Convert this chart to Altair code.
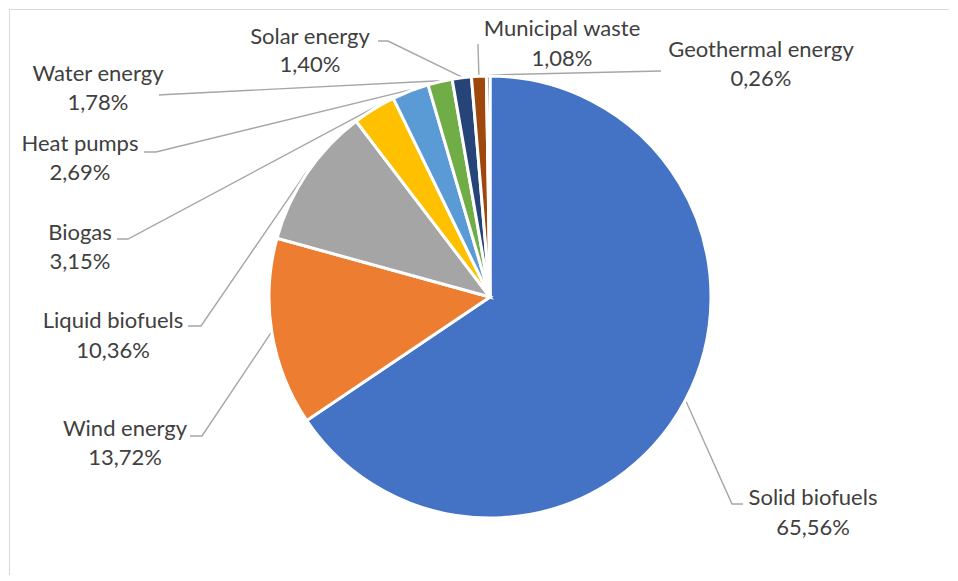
import math
import altair as alt
import pandas as pd

# ---- data ----
sources = ["Solid biofuels", "Wind energy", "Liquid biofuels", "Biogas", "Heat pumps",
           "Water energy", "Solar energy", "Municipal waste", "Geothermal energy"]
shares = [65.56, 13.72, 10.36, 3.15, 2.69, 1.78, 1.40, 1.08, 0.26]
pct_labels = ["65,56%", "13,72%", "10,36%", "3,15%", "2,69%", "1,78%", "1,40%", "1,08%", "0,26%"]
colors = ["#4472C4", "#ED7D31", "#A5A5A5", "#FFC000", "#5B9BD5", "#70AD47", "#264478", "#9E480E", "#636363"]

# ---- layout (page pixel coordinates) ----
OFF = 8
W, H = 940, 566
CX, CY, R = 489, 296, 221
# label centre (x, y of name line, y of percent line)
label_pos = [(812, 497, 527), (124, 428, 457), (112, 320, 350), (79, 232, 261), (79, 143, 172),
             (97, 73, 102), (309, 36, 64), (561, 28, 58), (760, 49, 78)]
# leader line: elbow point and end point near the label
leader_pts = [((731, 503), (742, 503)), ((201, 435), (189, 435)), ((200, 325), (187, 325)),
              ((127, 238), (116, 238)), ((155, 151), (143, 151)), ((166, 93.5), (158, 94)),
              ((387, 40), (377, 40)), ((477, 43), (477, 43)), ((660, 70), (660, 70))]

pie_df = pd.DataFrame({"source": sources, "share": shares, "order": list(range(len(sources)))})

# labels
lab_rows = []
for i, s in enumerate(sources):
    x, y1, y2 = label_pos[i]
    lab_rows.append({"x": x - OFF, "y": y1 - OFF, "t": s})
    lab_rows.append({"x": x - OFF, "y": y2 - OFF, "t": pct_labels[i]})
lab_df = pd.DataFrame(lab_rows)

# leader lines: start at slice edge (mid angle), then to elbow and end
total = sum(shares)
cum = 0.0
line_rows = []
for i, s in enumerate(sources):
    mid = (cum + shares[i] / 2) / total
    cum += shares[i]
    a = mid * 2 * math.pi
    ex = CX + (R + 1) * math.sin(a)
    ey = CY - (R + 1) * math.cos(a)
    (bx, by), (tx, ty) = leader_pts[i]
    for k, (px, py) in enumerate([(ex, ey), (bx, by), (tx, ty)]):
        line_rows.append({"src": s, "k": k, "x": px - OFF, "y": py - OFF})
line_df = pd.DataFrame(line_rows)

pie = alt.Chart(pie_df).mark_arc(radius=R, stroke="white", strokeWidth=3).encode(
    theta=alt.Theta("share:Q", stack=True),
    order=alt.Order("order:Q"),
    color=alt.Color("source:N", scale=alt.Scale(domain=sources, range=colors), legend=None),
    x=alt.value(CX - OFF),
    y=alt.value(CY - OFF),
)

leaders = alt.Chart(line_df).mark_line(color="#A6A6A6", strokeWidth=1.4).encode(
    x=alt.X("x:Q", scale=None, axis=None),
    y=alt.Y("y:Q", scale=None, axis=None),
    detail="src:N",
    order="k:Q",
)

labels = alt.Chart(lab_df).mark_text(
    font="Lato", fontSize=22, color="#404040", align="center", baseline="middle"
).encode(
    x=alt.X("x:Q", scale=None, axis=None),
    y=alt.Y("y:Q", scale=None, axis=None),
    text="t:N",
)

border_left = alt.Chart(pie_df).mark_rule(color="#D9D9D9", strokeWidth=1).encode(
    x=alt.value(0.5), y=alt.value(0), y2=alt.value(H)
)
border_top = alt.Chart(pie_df).mark_rule(color="#D9D9D9", strokeWidth=1).encode(
    x=alt.value(0), x2=alt.value(W), y=alt.value(0.5)
)

chart = alt.layer(border_left, border_top, leaders, pie, labels).properties(
    width=W, height=H, padding=0
).configure_view(stroke=None)

chart.save("out.html", embed_options={"renderer": "svg", "actions": False})
